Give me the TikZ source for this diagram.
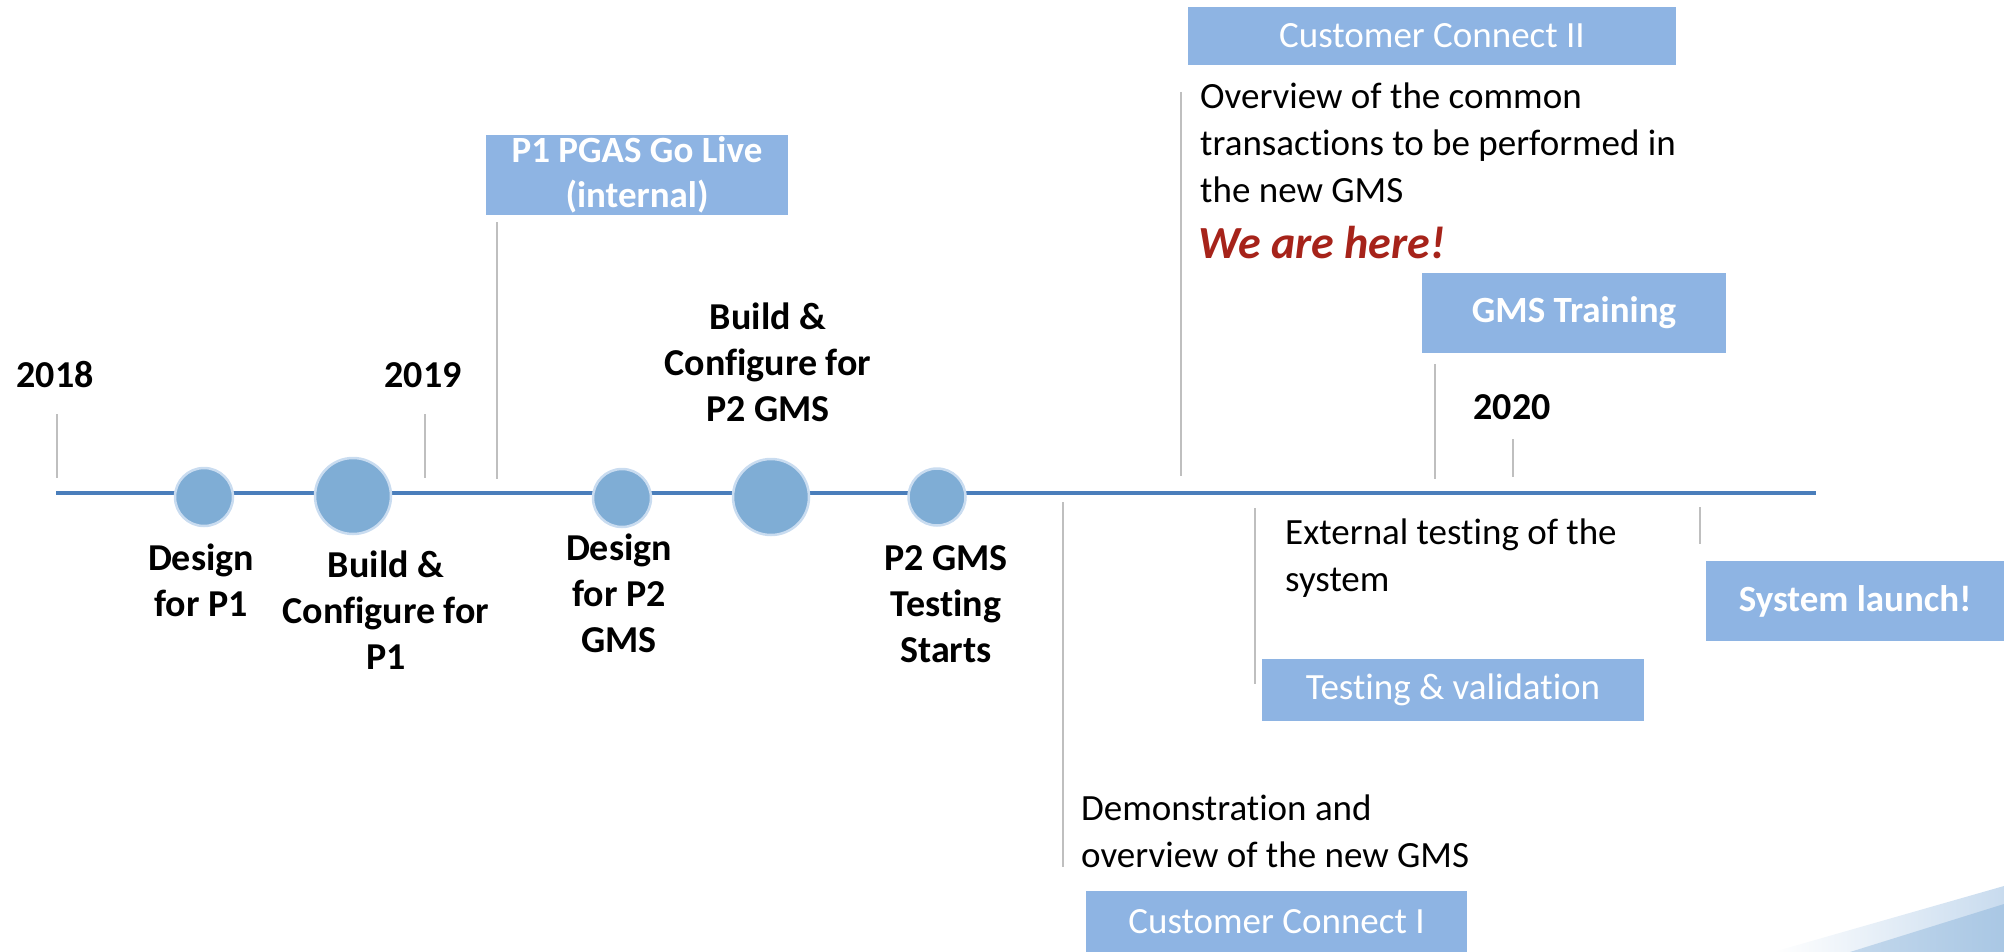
\documentclass[tikz,border=0pt]{standalone}
\usepackage{fontspec}
\setmainfont[Ligatures={NoCommon}]{Carlito}
\usetikzlibrary{calc}
\definecolor{boxblue}{HTML}{8EB4E3}
\definecolor{dotblue}{HTML}{7FADD5}
\definecolor{dotrim}{HTML}{C9DCF0}
\definecolor{lineblue}{HTML}{4A7EBB}
\definecolor{tickgray}{HTML}{BFBFBF}
\definecolor{herered}{HTML}{A6231A}
\definecolor{swlight}{HTML}{E6EFF8}
\definecolor{swmid}{HTML}{C8DBEE}
\definecolor{swdark}{HTML}{A9C7E4}
\tikzset{
  labelbold/.style={font=\fontsize{38pt}{46pt}\selectfont\bfseries, align=center, inner sep=0pt},
  bodytext/.style={font=\fontsize{37pt}{47pt}\selectfont, align=left, inner sep=0pt, anchor=west},
  bluebox/.style={fill=boxblue, text=white, inner sep=0pt, align=center},
  boxreg/.style={bluebox, font=\fontsize{37pt}{45pt}\selectfont},
  boxbold/.style={bluebox, font=\fontsize{37pt}{45pt}\selectfont\bfseries},
  dot/.style={circle, fill=dotblue, draw=dotrim, line width=2.5pt, inner sep=0pt},
  tick/.style={draw=tickgray, line width=1.6pt},
  timeline/.style={draw=lineblue, line width=4.5pt}
}
\begin{document}
\begin{tikzpicture}[x=1pt, y=-1pt]
\useasboundingbox (0,0) rectangle (2004,952);
% swoosh decoration
\shade[left color=white, right color=swmid] (1773,952) -- (2004,886) -- (2004,952) -- cycle;
\shade[left color=swdark!70, right color=swdark] (1850,952) -- (2004,904) -- (2004,952) -- cycle;

% timeline
\coordinate (tlstart) at (56,493);
\coordinate (tlend) at (1816,493);
\draw[timeline] (tlstart) -- (tlend);

% milestone dots
\node[dot, minimum size=58pt] (d1) at (204,497) {};
\node[dot, minimum size=76pt] (d2) at (353,496) {};
\node[dot, minimum size=58pt] (d3) at (622,498) {};
\node[dot, minimum size=76pt] (d4) at (771,497) {};
\node[dot, minimum size=57pt] (d5) at (937,497) {};

% years
\node[labelbold] (y2018) at (55,375) {2018};
\node[labelbold] (y2019) at (423,375) {2019};
\node[labelbold] (y2020) at (1512,407) {2020};

% dot labels
\node[labelbold] (l1) at (201,580) {Design\\for P1};
\node[labelbold] (l2) at (386,610) {Build \&\\Configure for\\P1};
\node[labelbold] (l3) at (619,593) {Design\\for P2\\GMS};
\node[labelbold] (l4) at (768,362) {Build \&\\Configure for\\P2 GMS};
\node[labelbold] (l5) at (946,604) {P2 GMS\\Testing\\Starts};

% boxes
\node[boxbold, minimum width=302pt, minimum height=80pt] (pgas) at (637,175) {P1 PGAS Go Live\\(internal)};
\node[boxreg, minimum width=488pt, minimum height=58pt] (cc2) at (1432,36) {Customer Connect II};
\node[boxbold, minimum width=304pt, minimum height=80pt] (gmst) at (1574,313) {GMS Training};
\node[boxreg, minimum width=382pt, minimum height=62pt] (tv) at (1453,690) {Testing \& validation};
\node[boxbold, minimum width=298pt, minimum height=80pt] (launch) at (1855,601) {System launch!};
\node[boxreg, minimum width=381pt, minimum height=61pt] (cc1) at (1276.5,921.5) {Customer Connect I};

% descriptive texts
\node[bodytext] (ov) at (1200,143) {Overview of the common\\transactions to be performed in\\the new GMS};
\node[font=\fontsize{46pt}{50pt}\selectfont\bfseries\itshape, text=herered, inner sep=0pt, anchor=west] (here) at (1198,243) {We are here!};
\node[bodytext] (ext) at (1285,558) {External testing of the\\system};
\node[bodytext] (demo) at (1081,831) {Demonstration and\\overview of the new GMS};

% ticks
\coordinate (t18a) at (57,414); \coordinate (t18b) at (57,478);
\coordinate (t19a) at (425,414); \coordinate (t19b) at (425,478);
\coordinate (tpa) at (497,222); \coordinate (tpb) at (497,479);
\coordinate (tc2a) at (1181,92); \coordinate (tc2b) at (1181,476);
\coordinate (tga) at (1435,364); \coordinate (tgb) at (1435,479);
\coordinate (t20a) at (1513,439); \coordinate (t20b) at (1513,477);
\coordinate (tc1a) at (1063,502); \coordinate (tc1b) at (1063,867);
\coordinate (ttva) at (1255,508); \coordinate (ttvb) at (1255,684);
\coordinate (tla) at (1700,507); \coordinate (tlb) at (1700,544);
\draw[tick] (t18a) -- (t18b);
\draw[tick] (t19a) -- (t19b);
\draw[tick] (tpa) -- (tpb);
\draw[tick] (tc2a) -- (tc2b);
\draw[tick] (tga) -- (tgb);
\draw[tick] (t20a) -- (t20b);
\draw[tick] (tc1a) -- (tc1b);
\draw[tick] (ttva) -- (ttvb);
\draw[tick] (tla) -- (tlb);
\end{tikzpicture}
\end{document}
